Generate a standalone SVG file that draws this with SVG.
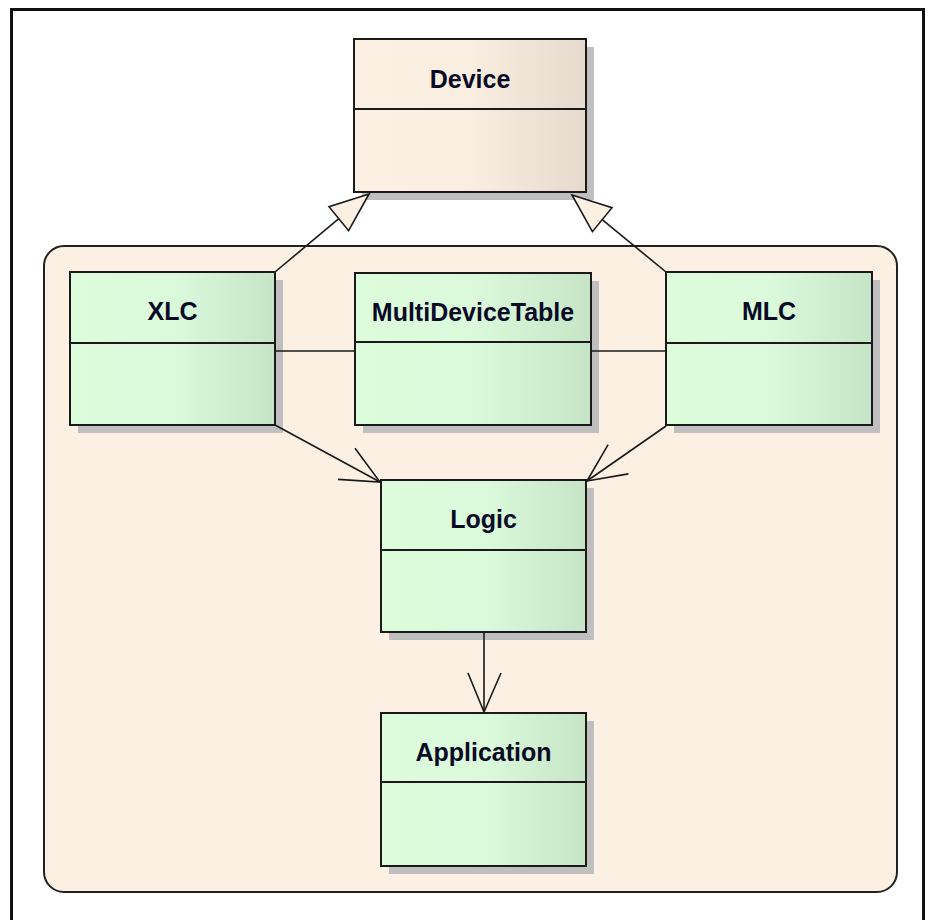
<svg xmlns="http://www.w3.org/2000/svg" width="931" height="920" viewBox="0 0 931 920">
<defs>
<linearGradient id="gGreen" x1="0" y1="0" x2="1" y2="0">
<stop offset="0" stop-color="#dcfcdc"/>
<stop offset="0.5" stop-color="#dbfadb"/>
<stop offset="1" stop-color="#c6e5c6"/>
</linearGradient>
<linearGradient id="gTan" x1="0" y1="0" x2="1" y2="0">
<stop offset="0" stop-color="#fbf0e2"/>
<stop offset="0.5" stop-color="#f9eee0"/>
<stop offset="1" stop-color="#e5dacb"/>
</linearGradient>
<style>
.shadow{fill:#bfbfbf;stroke:none}
.box{stroke:#1a1a1a;stroke-width:2}
.green{fill:url(#gGreen)}
.tan{fill:url(#gTan)}
.div{stroke:#1a1a1a;stroke-width:2}
.lbl{font-family:"Liberation Sans",Arial,sans-serif;font-weight:bold;font-size:25px;fill:#0a0a26;text-anchor:middle}
.conn{stroke:#1a1a1a;stroke-width:1.6;fill:none}
.tri{fill:#fbf0e2;stroke:#1a1a1a;stroke-width:1.6}
</style>
</defs>
<rect x="0" y="0" width="931" height="920" fill="#ffffff"/>
<path d="M11.5,920 V9.5 H923.5 V920" fill="none" stroke="#111" stroke-width="3"/>
<g id="package">
<rect x="44" y="246" width="853" height="646" rx="20" ry="20" fill="#fbf0e2" stroke="#222" stroke-width="2"/>
</g>
<g id="Device">
<rect class="shadow" x="362" y="47" width="232" height="153"/>
<rect class="box tan" x="354" y="39" width="232" height="153"/>
<line class="div" x1="354" y1="109" x2="586" y2="109"/>
<text class="lbl" x="470" y="88">Device</text>
</g>
<g id="XLC">
<rect class="shadow" x="78" y="280" width="205" height="153"/>
<rect class="box green" x="70" y="272" width="205" height="153"/>
<line class="div" x1="70" y1="343" x2="275" y2="343"/>
<text class="lbl" x="172.5" y="320">XLC</text>
</g>
<g id="MultiDeviceTable">
<rect class="shadow" x="363" y="281" width="236" height="152"/>
<rect class="box green" x="355" y="273" width="236" height="152"/>
<line class="div" x1="355" y1="342" x2="591" y2="342"/>
<text class="lbl" x="473" y="321">MultiDeviceTable</text>
</g>
<g id="MLC">
<rect class="shadow" x="674" y="280" width="206" height="153"/>
<rect class="box green" x="666" y="272" width="206" height="153"/>
<line class="div" x1="666" y1="343" x2="872" y2="343"/>
<text class="lbl" x="769" y="320">MLC</text>
</g>
<g id="Logic">
<rect class="shadow" x="389" y="488" width="205" height="152"/>
<rect class="box green" x="381" y="480" width="205" height="152"/>
<line class="div" x1="381" y1="550" x2="586" y2="550"/>
<text class="lbl" x="483.5" y="528">Logic</text>
</g>
<g id="Application">
<rect class="shadow" x="389" y="721" width="205" height="153"/>
<rect class="box green" x="381" y="713" width="205" height="153"/>
<line class="div" x1="381" y1="782" x2="586" y2="782"/>
<text class="lbl" x="483.5" y="761">Application</text>
</g>
<g id="connectors">
<line class="conn" x1="275" y1="351" x2="355" y2="351"/>
<line class="conn" x1="591" y1="351" x2="666" y2="351"/>
<line class="conn" x1="275" y1="272" x2="338.8" y2="218.7"/>
<polygon class="tri" points="369,194 329,206.7 348.6,230.7"/>
<line class="conn" x1="666" y1="272" x2="602.2" y2="219.7"/>
<polygon class="tri" points="572,195 612,207.7 592.4,231.7"/>
<line class="conn" x1="275" y1="425" x2="380" y2="482"/>
<polyline class="conn" points="338.1,479.4 380,482 355,448.2"/>
<line class="conn" x1="666" y1="426" x2="587" y2="481"/>
<polyline class="conn" points="628.4,473.9 587,481 608.1,444.7"/>
<line class="conn" x1="484" y1="632" x2="484" y2="712"/>
<polyline class="conn" points="468,673 484,712 501,673"/>
</g>
</svg>
